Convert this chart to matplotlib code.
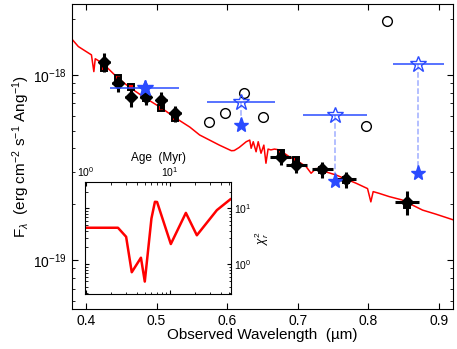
import numpy as np
import matplotlib
matplotlib.use('Agg')
import matplotlib.pyplot as plt
from matplotlib.ticker import NullFormatter

plt.rcParams['font.family'] = ['Liberation Sans', 'DejaVu Sans']
plt.rcParams['mathtext.fontset'] = 'custom'
plt.rcParams['mathtext.rm'] = 'Liberation Sans'
plt.rcParams['mathtext.it'] = 'Liberation Sans:italic'
plt.rcParams['mathtext.bf'] = 'Liberation Sans:bold'

# model spectrum (flux in 1e-18 erg/cm2/s/A)
spec_wave = [0.381, 0.389, 0.398, 0.4076, 0.411, 0.413, 0.424, 0.445, 0.463, 0.484,
             0.507, 0.527, 0.547, 0.561, 0.589, 0.606, 0.610, 0.617, 0.627, 0.632,
             0.634, 0.637, 0.641, 0.644, 0.648, 0.652, 0.655, 0.658, 0.662, 0.667,
             0.674, 0.688, 0.698, 0.712, 0.719, 0.726, 0.735, 0.754, 0.7825, 0.799,
             0.8037, 0.807, 0.8155, 0.8296, 0.848, 0.877, 0.8956, 0.92]
spec_flux = [1.54, 1.42, 1.35, 1.28, 1.04, 1.22, 1.15, 0.96, 0.848, 0.749,
             0.661, 0.584, 0.522, 0.473, 0.417, 0.389, 0.39, 0.405, 0.435, 0.444,
             0.401, 0.435, 0.384, 0.435, 0.377, 0.417, 0.333, 0.397, 0.393, 0.397,
             0.393, 0.361, 0.346, 0.319, 0.294, 0.312, 0.303, 0.288, 0.260, 0.243,
             0.206, 0.234, 0.229, 0.220, 0.211, 0.186, 0.177, 0.165]

# observed photometry
obs_wave = [0.426, 0.445, 0.463, 0.4845, 0.5066, 0.526, 0.676, 0.698, 0.735, 0.768, 0.855]
obs_flux = [1.17, 0.90, 0.76, 0.76, 0.73, 0.619, 0.361, 0.326, 0.309, 0.273, 0.206]
obs_xerr = [0.008, 0.008, 0.008, 0.008, 0.008, 0.008, 0.015, 0.015, 0.015, 0.015, 0.017]
obs_yfrac = [0.12, 0.1, 0.12, 0.1, 0.1, 0.1, 0.1, 0.1, 0.1, 0.1, 0.15]
# model photometry
mod_flux = [1.09, 0.96, 0.855, 0.745, 0.659, 0.582, 0.377, 0.347, 0.305, 0.272, 0.198]

# broad-band (stars)
star_wave = [0.483, 0.620, 0.753, 0.871]
star_xerr = [0.049, 0.048, 0.0455, 0.036]
star_model = [0.845, 0.71, 0.606, 1.14]
star_obs = [0.845, 0.535, 0.268, 0.294]

# open circles
circ_wave = [0.574, 0.5976, 0.6245, 0.6513, 0.7966, 0.8263]
circ_flux = [0.558, 0.624, 0.80, 0.593, 0.528, 1.95]

# inset: chi2 vs age
age = [1.0, 2.4, 3.0, 3.5, 4.5, 5.0, 6.0, 6.6, 7.0, 10.2, 15.4, 20.8, 36, 52]
chi2 = [4.5, 4.5, 3.1, 0.72, 1.31, 0.49, 6.6, 13.1, 13, 2.3, 8.3, 3.3, 9.3, 14.5]

blue = '#2a4bff'
s = 1e-18

fig = plt.figure(figsize=(4.57, 3.49), dpi=100)
ax = fig.add_axes([0.1575, 0.1146, 0.8335, 0.874])

ax.plot(spec_wave, np.array(spec_flux) * s, color='red', lw=1.1, zorder=1)

ax.plot(obs_wave, np.array(mod_flux) * s, 's', ms=5, mfc='red', mec='black', mew=1.4, zorder=2)
of = np.array(obs_flux) * s
ax.errorbar(obs_wave, of, xerr=obs_xerr, yerr=of * np.array(obs_yfrac), fmt='D', ms=6,
            color='black', ecolor='black', elinewidth=2.2, capsize=0, zorder=3)

for w, xe, m, o in zip(star_wave, star_xerr, star_model, star_obs):
    ax.plot([w, w], [m * s, o * s], '--', color=blue, alpha=0.45, lw=1.1, zorder=2)
ax.errorbar(star_wave, np.array(star_model) * s, xerr=star_xerr, fmt='*', ms=12,
            mfc='none', mec=blue, mew=1.0, ecolor=blue, elinewidth=1.1, capsize=0, zorder=4)
ax.plot(star_wave, np.array(star_obs) * s, '*', ms=11, color=blue, mec=blue, zorder=5)

ax.plot(circ_wave, np.array(circ_flux) * s, 'o', ms=7, mfc='none', mec='black', mew=1.0, zorder=4)

ax.set_yscale('log')
ax.set_xlim(0.38, 0.92)
ax.set_ylim(5.44e-20, 2.41e-18)
ax.set_xticks([0.4, 0.5, 0.6, 0.7, 0.8, 0.9])
ax.set_yticks([1e-19, 1e-18])
ax.yaxis.set_minor_formatter(NullFormatter())
ax.tick_params(which='both', direction='in', top=True, right=True, labelsize=10)
ax.tick_params(which='major', length=4)
ax.tick_params(which='minor', length=2.5)
ax.set_xlabel('Observed Wavelength  (µm)', fontsize=11, labelpad=0)
ax.set_ylabel(r'F$_\lambda$  (erg cm$^{-2}$ s$^{-1}$ Ang$^{-1}$)', fontsize=11, labelpad=1)

# inset
ins = fig.add_axes([0.186, 0.1567, 0.3195, 0.3227])
ins.plot(age, chi2, color='red', lw=1.8)
ins.set_xscale('log')
ins.set_yscale('log')
ins.set_xlim(0.973, 53)
ins.set_ylim(0.29, 30)
ins.set_xticks([1, 10])
ins.set_yticks([1, 10])
ins.xaxis.set_minor_formatter(NullFormatter())
ins.yaxis.set_minor_formatter(NullFormatter())
ins.tick_params(which='both', direction='in', top=True, bottom=True, left=True, right=True,
                labeltop=True, labelbottom=False, labelleft=False, labelright=True, labelsize=7.5)
ins.tick_params(which='major', length=3, pad=2)
ins.tick_params(which='minor', length=1.8)
ins.xaxis.set_label_position('top')
ins.yaxis.set_label_position('right')
ins.set_xlabel('Age  (Myr)', fontsize=8.5, labelpad=3)
ins.set_ylabel(r'$\chi^2_r$', fontsize=8.5, labelpad=1)

fig.savefig('out.png', dpi=100)
